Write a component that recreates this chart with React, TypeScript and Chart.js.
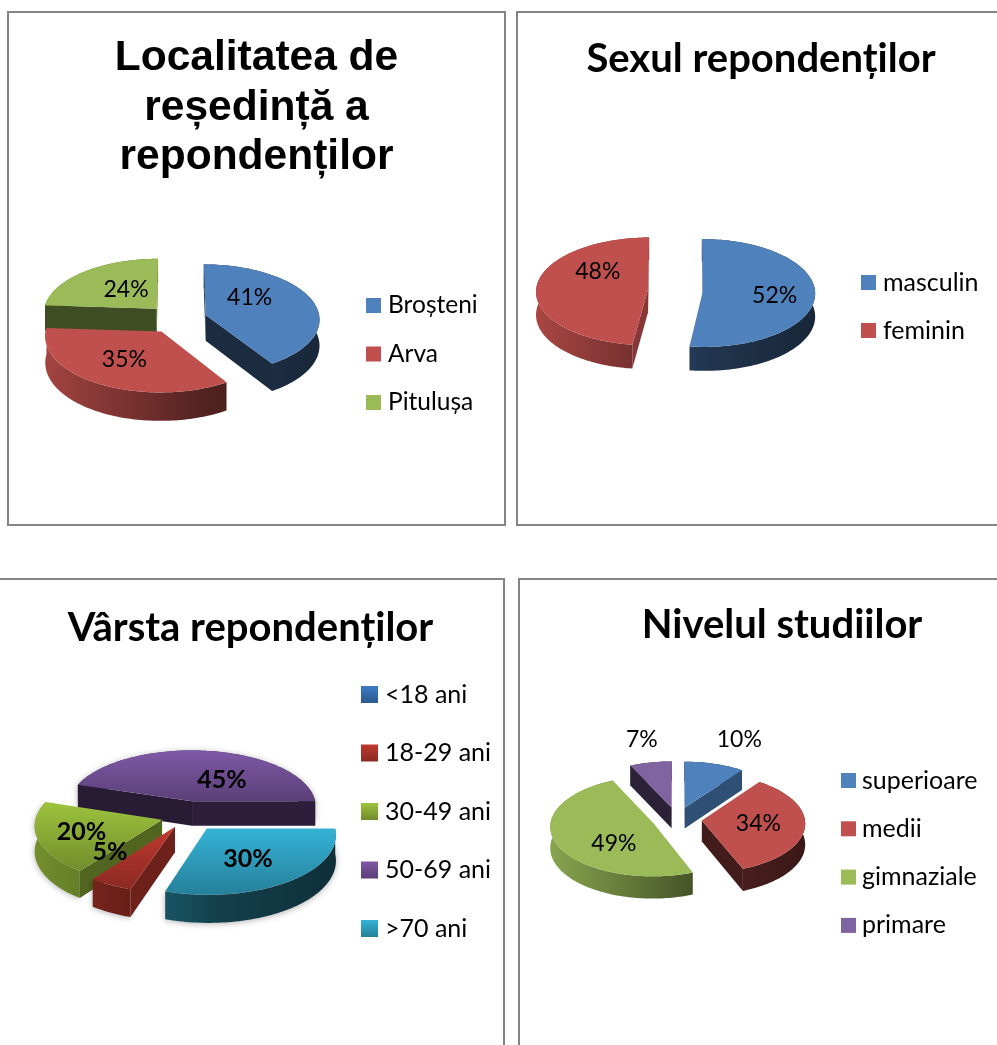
import React, { useEffect, useRef } from "react";
import { Chart, registerables } from "chart.js";
Chart.register(...registerables);

const localityLabels = ["Broșteni", "Arva", "Pitulușa"];
const localityValues = [41, 35, 24];
const sexLabels = ["masculin", "feminin"];
const sexValues = [52, 48];
const ageLabels = ["<18 ani", "18-29 ani", "30-49 ani", "50-69 ani", ">70 ani"];
const ageValues = [0, 5, 20, 45, 30];
const studyLabels = ["superioare", "medii", "gimnaziale", "primare"];
const studyValues = [10, 34, 49, 7];

const officeColors = ["#4F81BD", "#C0504D", "#9BBB59", "#8064A2"];
const ageColors = ["#3B7CC4", "#C0392F", "#9DC33D", "#7F58A6", "#35B2D6"];

type Panel = {
  labels: string[]; values: number[]; colors: string[]; title: string[]; titleFont: any; titlePad: number; titleLH: number;
  box: [number, number, number, number]; center: [number, number]; R: number; k: number; p: number; depth: number; burst: number[]; rotation: number;
  glossy: boolean; labelFont: string; nudge: [number, number][];
  legendX: number; legendY: number; legendStep: number; legendSize: [number, number]; legendFont: string; textX: number;
};

const rgb = (h: string) => [1, 3, 5].map((i) => parseInt(h.slice(i, i + 2), 16));
const shade = (h: string, f: number) => {
  const c = rgb(h).map((v) => Math.round(Math.min(255, v * f)));
  return `rgb(${c[0]},${c[1]},${c[2]})`;
};

const panels: Panel[] = [
  {
    labels: localityLabels, values: localityValues, colors: officeColors,
    title: ["Localitatea de", "reședință a", "repondenților"],
    titleFont: { family: "'Liberation Sans'", weight: "bold", size: 42.5 }, titlePad: 23, titleLH: 1.16,
    box: [7, 11, 499, 515], center: [177, 319], R: 114, k: 0.48, p: 0.07, depth: 26, burst: [30, 30, 30], rotation: 0,
    glossy: false, labelFont: "23px Lato", nudge: [[-15, -9], [-3, 0], [10, 2]],
    legendX: 366, legendY: 298, legendStep: 48.5, legendSize: [15, 15], legendFont: "24.5px Lato", textX: 388,
  },
  {
    labels: sexLabels, values: sexValues, colors: officeColors,
    title: ["Sexul repondenților"],
    titleFont: { family: "Lato", weight: "bold", size: 40 }, titlePad: 24, titleLH: 1.2,
    box: [516, 11, 490, 515], center: [675.5, 290], R: 112, k: 0.48, p: 0.04, depth: 23, burst: [27.5, 27.5], rotation: 0,
    glossy: false, labelFont: "23px Lato", nudge: [[10, 3], [11, -16]],
    legendX: 861, legendY: 275, legendStep: 48, legendSize: [15, 15], legendFont: "25px Lato", textX: 883,
  },
  {
    labels: ageLabels, values: ageValues, colors: ageColors,
    title: ["Vârsta repondenților"],
    titleFont: { family: "Lato", weight: "bold", size: 40 }, titlePad: 26, titleLH: 1.2,
    box: [-4, 578, 509, 500], center: [187, 816], R: 126, k: 0.46, p: 0.09, depth: 25, burst: [0, 26, 26, 33, 33], rotation: 198,
    glossy: true, labelFont: "bold 25px Lato", nudge: [[0, 0], [-31, -6], [-13, 2], [20, 7], [-3, 2]],
    legendX: 361, legendY: 686, legendStep: 58.5, legendSize: [17, 17], legendFont: "25px Lato", textX: 385,
  },
  {
    labels: studyLabels, values: studyValues, colors: officeColors,
    title: ["Nivelul studiilor"],
    titleFont: { family: "Lato", weight: "bold", size: 40 }, titlePad: 23, titleLH: 1.2,
    box: [518, 578, 528, 500], center: [677, 819], R: 103, k: 0.48, p: 0.05, depth: 21, burst: [25, 25, 25, 25], rotation: 0,
    glossy: false, labelFont: "23px Lato", nudge: [[38, -44], [0, 0], [13, 9], [-18, -43]],
    legendX: 841, legendY: 773, legendStep: 48.3, legendSize: [15, 15], legendFont: "25px Lato", textX: 862,
  },
];

function makePlugin(cfg: Panel) {
  return {
    id: "pie3d",
    beforeDatasetDraw(chart: any) {
      const ctx: CanvasRenderingContext2D = chart.ctx;
      const [ox, oy] = cfg.box;
      const cx = cfg.center[0] - ox;
      const cy = cfg.center[1] - oy;
      const arcs = chart.getDatasetMeta(0).data;
      const R = arcs[0].outerRadius;
      const proj = (X: number, Y: number) => {
        const f = 1 / (1 - (cfg.p * Y) / R);
        return { x: cx + X * f, y: cy + cfg.k * Y * f, d: cfg.depth * f };
      };
      const slices = arcs
        .map((el: any, i: number) => {
          const start = el.startAngle, end = el.endAngle, mid = (start + end) / 2;
          const off = (el.options.offset || 0) / 4;
          return { i, start, end, mid, ax: Math.cos(mid) * off, ay: Math.sin(mid) * off, r: el.outerRadius };
        })
        .filter((s: any) => s.end - s.start > 0.001)
        .sort((a: any, b: any) => proj(a.ax, a.ay).y - proj(b.ax, b.ay).y);

      const maxBurst = Math.max(...cfg.burst);
      const gradLeft = cx - R - maxBurst;
      const gradWidth = 2 * (R + maxBurst);
      for (const s of slices) {
        const col = cfg.colors[s.i];
        const steps = Math.max(8, Math.round((s.end - s.start) * 40));
        const rim: { x: number; y: number; d: number }[] = [];
        for (let n = 0; n <= steps; n++) {
          const a = s.start + ((s.end - s.start) * n) / steps;
          rim.push(proj(s.ax + Math.cos(a) * s.r, s.ay + Math.sin(a) * s.r));
        }
        const apex = proj(s.ax, s.ay);
        const glossK = cfg.glossy ? 0.85 : 1;
        // outer wall
        const g = ctx.createLinearGradient(gradLeft, 0, gradLeft + gradWidth, 0);
        g.addColorStop(0, shade(col, 0.88 * glossK));
        g.addColorStop(0.6, shade(col, 0.42 * glossK));
        g.addColorStop(1, shade(col, 0.3 * glossK));
        ctx.save();
        if (cfg.glossy) {
          ctx.shadowColor = "rgba(0,0,0,0.3)";
          ctx.shadowBlur = 6;
          ctx.shadowOffsetY = 1;
        }
        ctx.beginPath();
        rim.forEach((p, n) => (n ? ctx.lineTo(p.x, p.y) : ctx.moveTo(p.x, p.y)));
        for (let n = rim.length - 1; n >= 0; n--) ctx.lineTo(rim[n].x, rim[n].y + rim[n].d);
        ctx.closePath();
        ctx.fillStyle = g;
        ctx.fill();
        ctx.restore();
        // radial walls, only the ones that face the viewer
        const wall = (p: any, nx: number, ny: number) => {
          if (ny < -0.02) return;
          ctx.beginPath();
          ctx.moveTo(apex.x, apex.y);
          ctx.lineTo(p.x, p.y);
          ctx.lineTo(p.x, p.y + p.d);
          ctx.lineTo(apex.x, apex.y + apex.d);
          ctx.closePath();
          ctx.fillStyle = shade(col, (0.55 + 0.17 * nx - 0.13 * ny) * glossK);
          ctx.fill();
        };
        wall(rim[0], Math.sin(s.start), -Math.cos(s.start));
        wall(rim[rim.length - 1], -Math.sin(s.end), Math.cos(s.end));
        // top face
        ctx.beginPath();
        ctx.moveTo(apex.x, apex.y);
        rim.forEach((p) => ctx.lineTo(p.x, p.y));
        ctx.closePath();
        if (cfg.glossy) {
          const top = Math.min(apex.y, ...rim.map((p) => p.y));
          const bot = Math.max(apex.y, ...rim.map((p) => p.y));
          const tg = ctx.createLinearGradient(0, top, 0, bot);
          tg.addColorStop(0, col);
          tg.addColorStop(1, shade(col, 0.72));
          ctx.fillStyle = tg;
        } else {
          ctx.fillStyle = col;
        }
        ctx.fill();
      }
      // value labels
      ctx.fillStyle = "#000";
      ctx.font = cfg.labelFont;
      ctx.textAlign = "center";
      ctx.textBaseline = "middle";
      for (const s of [...slices].sort((a: any, b: any) => a.i - b.i)) {
        const p = proj(s.ax + Math.cos(s.mid) * s.r * 0.55, s.ay + Math.sin(s.mid) * s.r * 0.55);
        const [dx, dy] = cfg.nudge[s.i];
        ctx.fillText(`${chart.data.datasets[0].data[s.i]}%`, p.x + dx, p.y + dy);
      }
      // legend
      ctx.font = cfg.legendFont;
      ctx.textAlign = "left";
      chart.data.labels.forEach((label: string, i: number) => {
        const x = cfg.legendX - ox;
        const y = cfg.legendY - oy + cfg.legendStep * i;
        const [w, h] = cfg.legendSize;
        if (cfg.glossy) {
          const lg = ctx.createLinearGradient(0, y, 0, y + h);
          lg.addColorStop(0, cfg.colors[i]);
          lg.addColorStop(1, shade(cfg.colors[i], 0.72));
          ctx.fillStyle = lg;
        } else {
          ctx.fillStyle = cfg.colors[i];
        }
        ctx.fillRect(x, y, w, h);
        ctx.fillStyle = "#000";
        ctx.fillText(label, cfg.textX - ox, y + h / 2);
      });
      return false;
    },
  };
}

function Pie3D({ cfg }: { cfg: Panel }) {
  const ref = useRef<HTMLCanvasElement>(null);
  useEffect(() => {
    const chart = new Chart(ref.current as HTMLCanvasElement, {
      type: "pie",
      data: {
        labels: cfg.labels,
        datasets: [{ data: cfg.values, backgroundColor: cfg.colors, borderWidth: 0, offset: cfg.burst.map((b) => b * 4) }],
      },
      options: {
        responsive: false,
        animation: false,
        radius: cfg.R,
        rotation: cfg.rotation,
        layout: { padding: 0 },
        plugins: {
          legend: { display: false },
          tooltip: { enabled: false },
          title: {
            display: true,
            text: cfg.title,
            color: "#000",
            font: { ...cfg.titleFont, lineHeight: cfg.titleLH },
            padding: { top: cfg.titlePad, bottom: 0 },
          },
        },
      } as any,
      plugins: [makePlugin(cfg) as any],
    });
    return () => chart.destroy();
  }, [cfg]);
  const [left, top, width, height] = cfg.box;
  return (
    <>
      <div style={{ position: "absolute", left, top, width, height, boxSizing: "border-box", border: "2px solid #858585" }} />
      <canvas ref={ref} width={width} height={height} style={{ position: "absolute", left, top, width, height }} />
    </>
  );
}

export default function App() {
  return (
    <div style={{ position: "absolute", left: 0, top: 0, width: 997, height: 1045, overflow: "hidden", background: "#fff" }}>
      {panels.map((p, i) => (
        <Pie3D key={i} cfg={p} />
      ))}
    </div>
  );
}
